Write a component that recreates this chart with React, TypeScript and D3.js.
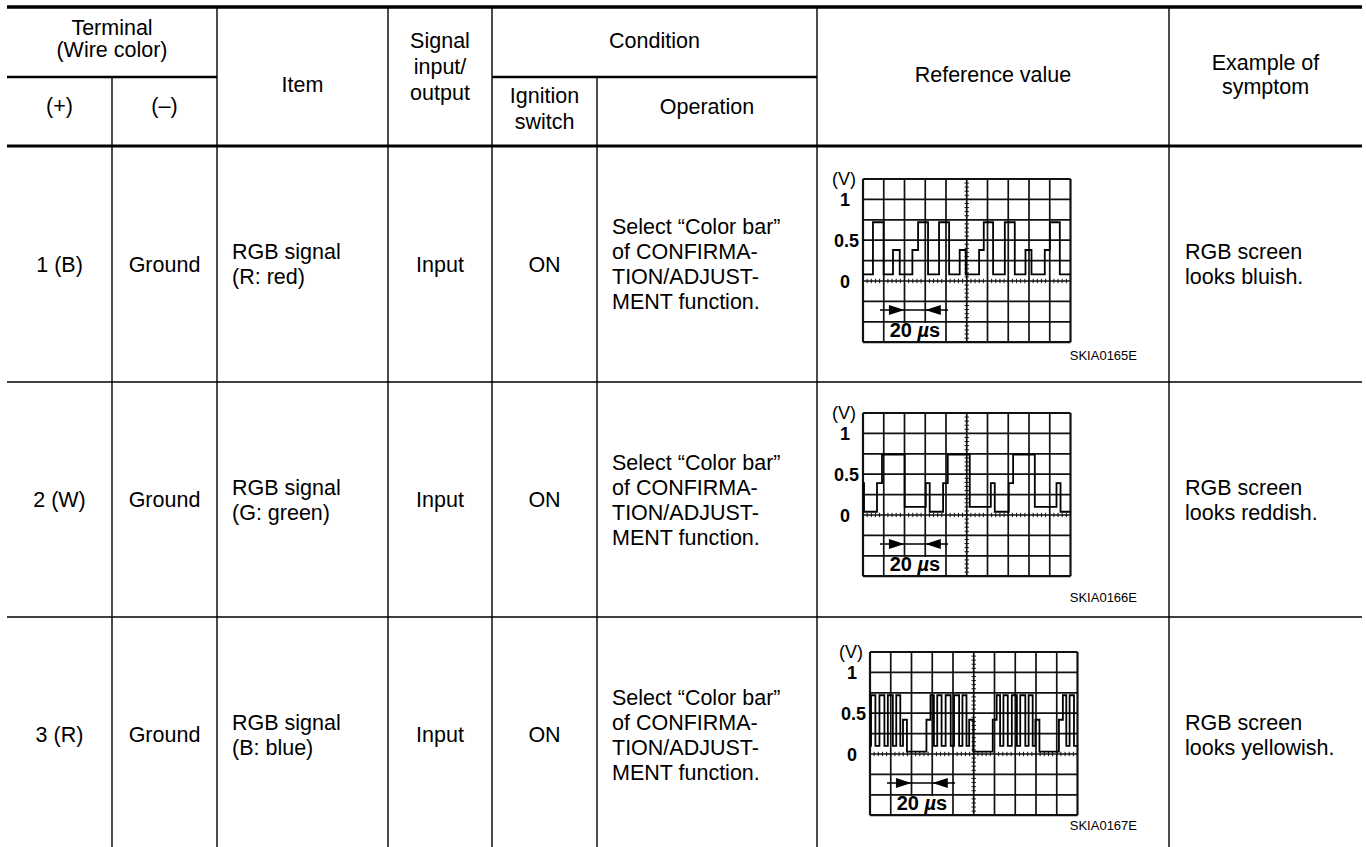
import React, { useEffect, useRef } from "react";
import * as d3 from "d3";

// ---- table text ----
const plusTerminals = ["1 (B)", "2 (W)", "3 (R)"];
const minusTerminals = ["Ground", "Ground", "Ground"];
const items = [
  ["RGB signal", "(R: red)"],
  ["RGB signal", "(G: green)"],
  ["RGB signal", "(B: blue)"],
];
const signalIO = ["Input", "Input", "Input"];
const ignition = ["ON", "ON", "ON"];
const operation = ["Select \u201cColor bar\u201d", "of CONFIRMA-", "TION/ADJUST-", "MENT function."];
const figureCodes = ["SKIA0165E", "SKIA0166E", "SKIA0167E"];
const symptoms = [
  ["RGB screen", "looks bluish."],
  ["RGB screen", "looks reddish."],
  ["RGB screen", "looks yellowish."],
];

// ---- oscilloscope scale (V, µs) ----
const voltLabels = ["1", "0.5", "0"];
const voltLabelValues = [1, 0.5, 0];
const timeDivLabel = "20";

// ---- waveforms: step transitions (time µs, level V) ----
const redTimes = [0, 9.6, 19.9, 28.9, 35.4, 47.6, 53.1, 62.7, 73.3, 83.0, 93.2, 99.0, 111.9, 116.4, 125.4, 136.7, 146.3, 156.6, 162.4, 175.2, 180.1, 189.7];
const redVolts = [0.08, 0.72, 0.08, 0.38, 0.08, 0.38, 0.72, 0.08, 0.72, 0.08, 0.38, 0.08, 0.38, 0.72, 0.08, 0.72, 0.08, 0.38, 0.08, 0.38, 0.72, 0.08];

const greenTimes = [0, 1.0, 13.5, 18.3, 40.2, 60.5, 64.3, 77.2, 81.7, 102.9, 123.2, 127.0, 140.5, 144.7, 165.6, 186.5, 190.4];
const greenVolts = [0.39, 0.04, 0.39, 0.74, 0.1, 0.39, 0.04, 0.39, 0.74, 0.1, 0.39, 0.04, 0.39, 0.74, 0.1, 0.39, 0.04];

const blueTimes = [0, 1.0, 5.2, 9.1, 13.9, 17.2, 22.0, 25.3, 29.2, 31.8, 35.6, 54.4, 58.3, 61.6, 64.8, 69.0, 72.9, 77.8, 81.0, 85.9, 89.1, 93.0, 95.6, 99.5, 118.3, 122.1, 125.4, 128.6, 132.8, 136.7, 141.6, 144.8, 149.7, 152.9, 156.8, 159.4, 163.3, 182.1, 185.9, 189.2, 192.4, 196.6];
const blueVolts = [0.1, 0.72, 0.1, 0.72, 0.1, 0.72, 0.1, 0.72, 0.1, 0.42, 0.03, 0.42, 0.72, 0.1, 0.72, 0.1, 0.72, 0.1, 0.72, 0.1, 0.72, 0.1, 0.42, 0.03, 0.42, 0.72, 0.1, 0.72, 0.1, 0.72, 0.1, 0.72, 0.1, 0.72, 0.1, 0.42, 0.03, 0.42, 0.72, 0.1, 0.72, 0.1];

const waveTimes = [redTimes, greenTimes, blueTimes];
const waveVolts = [redVolts, greenVolts, blueVolts];

// layout
const W = 1366;
const H = 847;
const colX = [7, 112, 217, 388, 492, 597, 817, 1169, 1362];
const rowTop = [146, 382, 617];
const rowBottom = [382, 617, 852];
const scopeLeft = [863, 863, 870];
const scopeTop = [179, 413, 652];
const codeBaseline = [360, 602, 830];
const FONT = "'Liberation Sans', Arial, Helvetica, sans-serif";
const FS = 21.5;

export default function App() {
  const svgRef = useRef<SVGSVGElement>(null);

  useEffect(() => {
    const svg = d3.select(svgRef.current);
    svg.selectAll("*").remove();
    svg.append("rect").attr("width", W).attr("height", H).attr("fill", "#fff");

    const g = svg.append("g").attr("font-family", FONT).attr("fill", "#000");

    // ---- table rules ----
    const hline = (y: number, x1: number, x2: number, w: number) =>
      g.append("line").attr("x1", x1).attr("x2", x2).attr("y1", y).attr("y2", y)
        .attr("stroke", "#000").attr("stroke-width", w);
    const vline = (x: number, y1: number, y2: number, w: number) =>
      g.append("line").attr("x1", x).attr("x2", x).attr("y1", y1).attr("y2", y2)
        .attr("stroke", "#000").attr("stroke-width", w);

    hline(7, colX[0], colX[8], 3.5);
    hline(77, colX[0], colX[2], 2.5);
    hline(77, colX[4], colX[6], 2.5);
    hline(146, colX[0], colX[8], 3);
    hline(382, colX[0], colX[8], 1.6);
    hline(617, colX[0], colX[8], 1.6);
    [2, 3, 4, 6, 7].forEach((i) => vline(colX[i], 7, H, 1.4));
    vline(colX[1], 77, H, 1.4);
    vline(colX[5], 77, H, 1.4);

    // ---- header text ----
    const txt = (x: number, y: number, s: string, size = FS, anchor = "middle") =>
      g.append("text").attr("x", x).attr("y", y).attr("font-size", size)
        .attr("text-anchor", anchor).text(s);

    const mid = (a: number, b: number) => (colX[a] + colX[b]) / 2;
    txt(mid(0, 2), 35, "Terminal");
    txt(mid(0, 2), 57, "(Wire color)");
    txt(mid(0, 1), 113, "(+)");
    txt(mid(1, 2), 113, "(\u2013)");
    txt(mid(2, 3), 92, "Item");
    txt(mid(3, 4), 48, "Signal");
    txt(mid(3, 4), 74, "input/");
    txt(mid(3, 4), 100, "output");
    txt(mid(4, 6), 48, "Condition");
    txt(mid(4, 5), 103, "Ignition");
    txt(mid(4, 5), 129, "switch");
    txt(mid(5, 6), 114, "Operation");
    txt(mid(6, 7), 82, "Reference value");
    txt(mid(7, 8), 70, "Example of");
    txt(mid(7, 8), 94, "symptom");

    // ---- body rows ----
    const LH = 25;
    const lines = (x: number, cy: number, arr: string[], anchor = "middle") =>
      arr.forEach((s, i) => txt(x, cy + (i - (arr.length - 1) / 2) * LH + 7.5, s, FS, anchor));

    rowTop.forEach((top, r) => {
      const cy = (top + rowBottom[r]) / 2;
      lines(mid(0, 1), cy, [plusTerminals[r]]);
      lines(mid(1, 2), cy, [minusTerminals[r]]);
      lines(colX[2] + 15, cy, items[r], "start");
      lines(mid(3, 4), cy, [signalIO[r]]);
      lines(mid(4, 5), cy, [ignition[r]]);
      lines(colX[5] + 15, cy, operation, "start");
      lines(colX[7] + 16, cy, symptoms[r], "start");

      // ---- oscilloscope figure ----
      const gl = scopeLeft[r];
      const gt = scopeTop[r];
      const x = d3.scaleLinear().domain([0, 200]).range([gl, gl + 207.5]);
      const y = d3.scaleLinear().domain([-0.75, 1.25]).range([gt + 163.2, gt]);
      const sc = g.append("g");

      const tDivs = d3.range(0, 201, 20);
      const vDivs = d3.range(-0.75, 1.26, 0.25);
      sc.selectAll("line.v").data(tDivs).join("line")
        .attr("x1", (d) => x(d)).attr("x2", (d) => x(d))
        .attr("y1", y(1.25)).attr("y2", y(-0.75))
        .attr("stroke", "#111").attr("stroke-width", (d) => (d === 0 || d === 200 ? 2.2 : 1.7));
      sc.selectAll("line.h").data(vDivs).join("line")
        .attr("x1", x(0)).attr("x2", x(200))
        .attr("y1", (d) => y(d)).attr("y2", (d) => y(d))
        .attr("stroke", "#111").attr("stroke-width", (d) => (Math.abs(d - 1.25) < 1e-6 || Math.abs(d + 0.75) < 1e-6 ? 2.2 : 1.7));

      // centre axes with minor ticks
      sc.selectAll("line.tx").data(d3.range(0, 200.1, 4)).join("line")
        .attr("x1", (d) => x(d)).attr("x2", (d) => x(d))
        .attr("y1", y(0) - 2.2).attr("y2", y(0) + 2.2)
        .attr("stroke", "#111").attr("stroke-width", 1);
      sc.selectAll("line.ty").data(d3.range(-0.75, 1.2501, 0.05)).join("line")
        .attr("x1", x(100) - 2.2).attr("x2", x(100) + 2.2)
        .attr("y1", (d) => y(d)).attr("y2", (d) => y(d))
        .attr("stroke", "#111").attr("stroke-width", 1);

      // 20 µs box
      sc.append("rect")
        .attr("x", x(20) + 1.2).attr("y", y(-0.5) + 1.2)
        .attr("width", x(80) - x(20) - 2.4).attr("height", y(-0.75) - y(-0.5) - 2.4)
        .attr("fill", "#fff");
      const lbl = sc.append("text").attr("x", x(50)).attr("y", y(-0.75) - 5)
        .attr("text-anchor", "middle").attr("font-size", 20).attr("font-weight", "bold");
      lbl.append("tspan").text(timeDivLabel + " ");
      lbl.append("tspan").attr("font-style", "italic").text("\u00b5");
      lbl.append("tspan").text("s");

      // dimension arrows
      const ay = y(-0.355);
      sc.append("line").attr("x1", x(16.4)).attr("x2", x(82)).attr("y1", ay).attr("y2", ay)
        .attr("stroke", "#000").attr("stroke-width", 1.6);
      sc.append("path")
        .attr("d", `M${x(25)},${ay - 5}L${x(40)},${ay}L${x(25)},${ay + 5}Z`).attr("fill", "#000");
      sc.append("path")
        .attr("d", `M${x(75)},${ay - 5}L${x(60)},${ay}L${x(75)},${ay + 5}Z`).attr("fill", "#000");

      // axis labels
      sc.append("text").attr("x", gl - 19).attr("y", gt + 6).attr("text-anchor", "middle")
        .attr("font-size", 18).text("(V)");
      voltLabels.forEach((s, i) => {
        const v = voltLabelValues[i];
        const isHalf = s.length > 1;
        sc.append("text")
          .attr("x", isHalf ? gl - 4 : gl - 18)
          .attr("y", y(v) + 6.5)
          .attr("text-anchor", isHalf ? "end" : "middle")
          .attr("font-size", 18).attr("font-weight", "bold").text(s);
      });

      // waveform
      const pts: [number, number][] = waveTimes[r].map((t, i) => [t, waveVolts[r][i]]);
      pts.push([200, waveVolts[r][waveVolts[r].length - 1]]);
      const line = d3.line<[number, number]>()
        .x((d) => x(d[0])).y((d) => y(d[1]))
        .curve(d3.curveStepAfter);
      sc.append("path").attr("d", line(pts) as string)
        .attr("fill", "none").attr("stroke", "#000").attr("stroke-width", 1.8);

      // figure code
      g.append("text").attr("x", 1137).attr("y", codeBaseline[r])
        .attr("text-anchor", "end").attr("font-size", 13).text(figureCodes[r]);
    });
  }, []);

  return (
    <svg
      ref={svgRef}
      width={W}
      height={H}
      style={{ position: "absolute", left: 0, top: 0, display: "block" }}
    />
  );
}
